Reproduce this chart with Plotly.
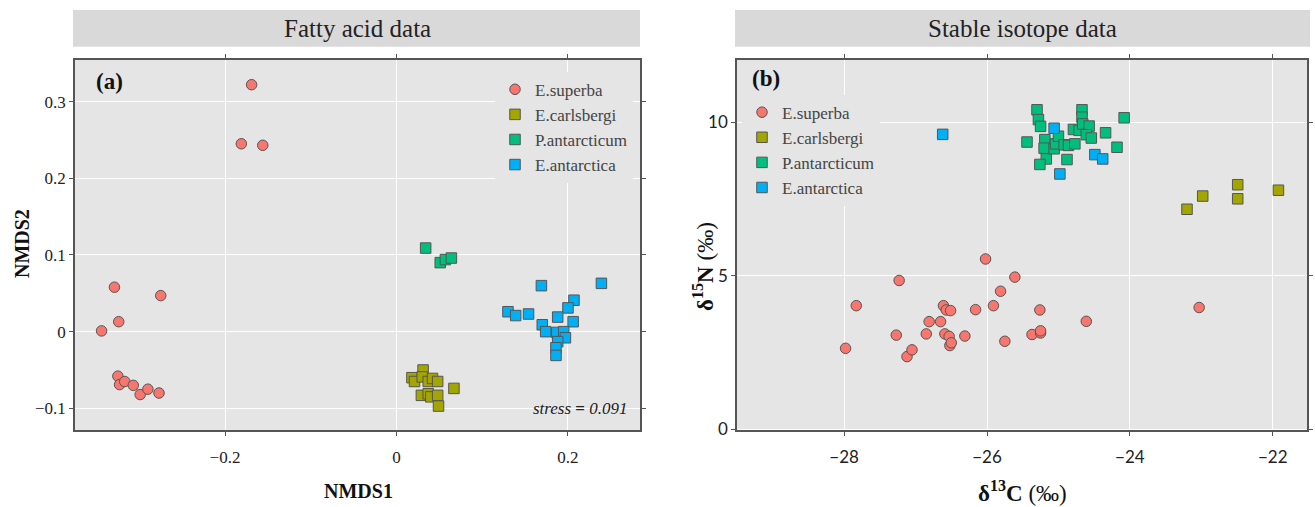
import plotly.graph_objects as go

W, H = 1315, 507
FIG_H = 514

species = ["E.superba", "E.carlsbergi", "P.antarcticum", "E.antarctica"]
colors = ["#F8766D", "#A3A500", "#00BF7D", "#00B0F6"]
symbols = ["circle", "square", "square", "square"]

# ---- Panel (a): NMDS of fatty acid data ----
fa_superba_x = [-0.169, -0.181, -0.156, -0.329, -0.275, -0.324, -0.344, -0.325, -0.323,
                -0.317, -0.307, -0.299, -0.290, -0.277]
fa_superba_y = [0.322, 0.245, 0.243, 0.058, 0.047, 0.013, 0.001, -0.058, -0.069,
                -0.065, -0.070, -0.082, -0.075, -0.080]
fa_carls_x = [0.018, 0.021, 0.031, 0.030, 0.037, 0.042, 0.048, 0.029, 0.037, 0.040,
              0.048, 0.049, 0.067]
fa_carls_y = [-0.060, -0.065, -0.050, -0.059, -0.065, -0.061, -0.065, -0.083, -0.081,
              -0.085, -0.083, -0.097, -0.074]
fa_pant_x = [0.034, 0.051, 0.057, 0.064]
fa_pant_y = [0.109, 0.090, 0.094, 0.096]
fa_eant_x = [0.130, 0.139, 0.154, 0.169, 0.239, 0.207, 0.200, 0.188, 0.206, 0.170,
             0.174, 0.187, 0.195, 0.197, 0.188, 0.186, 0.186]
fa_eant_y = [0.026, 0.021, 0.023, 0.060, 0.063, 0.041, 0.031, 0.019, 0.013, 0.009,
             0.000, -0.001, 0.000, -0.008, -0.013, -0.021, -0.031]

# ---- Panel (b): stable isotopes ----
si_superba_x = [-27.98, -27.83, -27.23, -27.27, -27.12, -27.05, -26.85, -26.81, -26.65,
                -26.61, -26.57, -26.51, -26.59, -26.53, -26.52, -26.50, -26.31, -26.16,
                -26.02, -25.61, -25.81, -25.91, -25.26, -24.61, -25.75, -25.37, -25.25,
                -25.25, -23.03]
si_superba_y = [2.63, 4.02, 4.84, 3.06, 2.36, 2.58, 3.10, 3.50, 3.50,
                4.02, 3.88, 3.86, 3.10, 3.02, 2.72, 2.81, 3.03, 3.89,
                5.54, 4.95, 4.49, 4.02, 3.88, 3.51, 2.86, 3.08, 3.13,
                3.20, 3.96]
si_carls_x = [-23.20, -22.98, -22.49, -22.49, -21.92]
si_carls_y = [7.16, 7.59, 7.96, 7.50, 7.78]
si_pant_x = [-25.30, -25.28, -25.25, -25.44, -25.19, -25.20, -25.17, -25.26, -25.06,
             -25.04, -25.00, -24.92, -24.86, -24.77, -24.88, -24.79, -24.71, -24.67,
             -24.67, -24.66, -24.57, -24.61, -24.54, -24.34, -24.18, -24.08]
si_pant_y = [10.40, 10.08, 9.86, 9.35, 9.43, 9.15, 8.80, 8.62, 9.13,
             9.29, 9.54, 9.26, 9.24, 9.29, 8.78, 9.76, 9.73, 10.40,
             10.16, 9.94, 9.87, 9.59, 9.48, 9.65, 9.18, 10.14]
si_eant_x = [-26.62, -25.06, -24.98, -24.49, -24.38]
si_eant_y = [9.60, 9.80, 8.31, 8.94, 8.80]

fa_sets = [(fa_superba_x, fa_superba_y), (fa_carls_x, fa_carls_y),
           (fa_pant_x, fa_pant_y), (fa_eant_x, fa_eant_y)]
si_sets = [(si_superba_x, si_superba_y), (si_carls_x, si_carls_y),
           (si_pant_x, si_pant_y), (si_eant_x, si_eant_y)]

fa_xticks = [-0.2, 0, 0.2]
fa_xticktext = ["\u22120.2", "0", "0.2"]
fa_yticks = [-0.1, 0, 0.1, 0.2, 0.3]
fa_yticktext = ["\u22120.1", "0", "0.1", "0.2", "0.3"]
si_xticks = [-28, -26, -24, -22]
si_xticktext = ["\u221228", "\u221226", "\u221224", "\u221222"]
si_yticks = [0, 5, 10]
si_yticktext = ["0", "5", "10"]

SERIF = "Liberation Serif"

fig = go.Figure()
for i, (xs, ys) in enumerate(fa_sets):
    fig.add_trace(go.Scatter(
        x=xs, y=ys, mode="markers", name=species[i], xaxis="x", yaxis="y",
        legend="legend",
        marker=dict(color=colors[i], symbol=symbols[i], size=10.5,
                    line=dict(color="#555555", width=1))))
for i, (xs, ys) in enumerate(si_sets):
    fig.add_trace(go.Scatter(
        x=xs, y=ys, mode="markers", name=species[i], xaxis="x2", yaxis="y2",
        legend="legend2",
        marker=dict(color=colors[i], symbol=symbols[i], size=10.5,
                    line=dict(color="#555555", width=1))))


def px(x):
    return x / W


def py(y):
    return 1 - y / H


axis_common = dict(showline=True, mirror="ticks", linecolor="#555555", linewidth=1.5,
                   ticks="outside", ticklen=4, tickcolor="#555555",
                   showgrid=True, gridcolor="#FFFFFF", gridwidth=1, zeroline=False)

tickfont_a = dict(family=SERIF, size=17, color="#222222")
tickfont_b = dict(family="Lato", size=17, color="#222222")

fig.update_layout(
    width=W, height=FIG_H,
    margin=dict(l=0, r=0, t=0, b=0),
    paper_bgcolor="white",
    plot_bgcolor="#E5E5E5",
    xaxis=dict(domain=[px(75), px(640)], range=[-0.375, 0.284], anchor="y",
               tickvals=fa_xticks, ticktext=fa_xticktext, tickfont=tickfont_a,
               ticklabelstandoff=7, **axis_common),
    yaxis=dict(domain=[py(432), py(60)], range=[-0.1286, 0.3545], anchor="x",
               tickvals=fa_yticks, ticktext=fa_yticktext, tickfont=tickfont_a, **axis_common),
    xaxis2=dict(domain=[px(737), px(1307)], range=[-29.5, -21.52], anchor="y2",
                tickvals=si_xticks, ticktext=si_xticktext, tickfont=tickfont_b,
                ticklabelstandoff=7, **axis_common),
    yaxis2=dict(domain=[py(432), py(60)], range=[-0.04, 12.03], anchor="x2",
                tickvals=si_yticks, ticktext=si_yticktext, tickfont=tickfont_b, **axis_common),
    legend=dict(x=px(495), y=py(72), xanchor="left", yanchor="top",
                bgcolor="#E5E5E5", font=dict(family=SERIF, size=17, color="#444444"),
                itemclick=False),
    legend2=dict(x=px(742), y=py(95), xanchor="left", yanchor="top",
                 bgcolor="#E5E5E5", font=dict(family=SERIF, size=17, color="#444444"),
                 itemclick=False),
    showlegend=True,
)

# strip headers
shapes = [
    dict(type="rect", xref="paper", yref="paper", x0=px(73), x1=px(640), y0=py(47), y1=py(10),
         fillcolor="#D9D9D9", line=dict(width=0), layer="below"),
    dict(type="rect", xref="paper", yref="paper", x0=px(735), x1=px(1310), y0=py(47), y1=py(10),
         fillcolor="#D9D9D9", line=dict(width=0), layer="below"),
]
fig.update_layout(shapes=shapes)

ann = [
    dict(text="Fatty acid data", x=px(357), y=py(29), font=dict(family=SERIF, size=25, color="#222222")),
    dict(text="Stable isotope data", x=px(1022), y=py(29), font=dict(family=SERIF, size=25, color="#222222")),
    dict(text="<b>(a)</b>", x=px(94), y=py(82), xanchor="left", font=dict(family=SERIF, size=23, color="#111111")),
    dict(text="<b>(b)</b>", x=px(750), y=py(79), xanchor="left", font=dict(family=SERIF, size=23, color="#111111")),
    dict(text="<i>stress</i> <b>=</b> <i>0.091</i>", x=px(630), y=py(410), xanchor="right",
         font=dict(family=SERIF, size=17, color="#222222")),
    dict(text="<b>NMDS1</b>", x=px(358), y=py(493), font=dict(family=SERIF, size=20, color="#111111")),
    dict(text="<b>NMDS2</b>", x=px(22), y=py(245), textangle=-90, font=dict(family=SERIF, size=20, color="#111111")),
    dict(text="<b>\u03b4<sup>13</sup>C</b> (\u2030)", x=px(1022), y=py(493),
         font=dict(family=SERIF, size=23, color="#111111")),
    dict(text="<b>\u03b4<sup>15</sup>N</b> (\u2030)", x=px(704), y=py(268), textangle=-90,
         font=dict(family=SERIF, size=23, color="#111111")),
]
for a in ann:
    a.setdefault("xref", "paper")
    a.setdefault("yref", "paper")
    a.setdefault("showarrow", False)
    a.setdefault("xanchor", "center")
    a.setdefault("yanchor", "middle")
fig.update_layout(annotations=ann)

fig.write_html("out.html")
